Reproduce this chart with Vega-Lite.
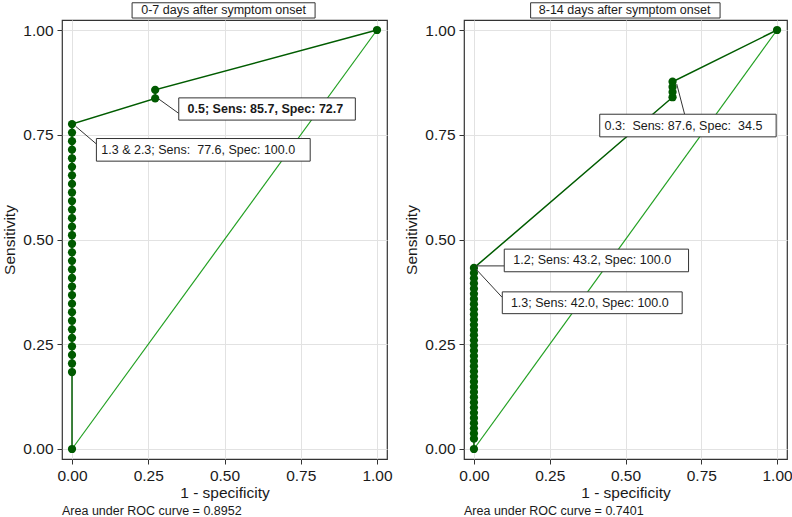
{
  "$schema": "https://vega.github.io/schema/vega-lite/v6.json",
  "padding": {"left": 2, "top": 1, "right": 0, "bottom": 0},
  "spacing": 11,
  "config": {
    "font": "Liberation Sans",
    "view": {"stroke": "#333333", "strokeWidth": 1.2},
    "axis": {
      "grid": true, "gridColor": "#e2e2e2", "gridWidth": 1, "domain": false,
      "tickColor": "#333333", "tickSize": 5, "labelPadding": 4,
      "labelFontSize": 15.5, "labelColor": "#1a1a1a", "labelFont": "Liberation Sans",
      "titleFontSize": 15.5, "titleFontWeight": "normal", "titleColor": "#1a1a1a", "titleFont": "Liberation Sans"
    },
    "axisY": {"titlePadding": 5},
    "axisX": {"titlePadding": 2},
    "title": {"orient": "bottom", "anchor": "start", "frame": "group", "fontSize": 12.5, "fontWeight": "normal", "color": "#1a1a1a", "offset": 4, "font": "Liberation Sans"}
  },
  "hconcat": [
    {
      "width": 325, "height": 439,
      "title": {"text": "Area under ROC curve = 0.8952"},
      "encoding": {
        "x": {"field": "fpr", "type": "quantitative", "title": "1 - specificity",
              "scale": {"domain": [-0.0328, 1.0328], "nice": false, "zero": false},
              "axis": {"values": [0, 0.25, 0.5, 0.75, 1], "format": ".2f"}},
        "y": {"field": "sens", "type": "quantitative", "title": "Sensitivity",
              "scale": {"domain": [-0.02387, 1.02387], "nice": false, "zero": false},
              "axis": {"values": [0, 0.25, 0.5, 0.75, 1], "format": ".2f"}}
      },
      "layer": [
        {
          "data": {"values": [{"fpr": 0, "sens": 0}, {"fpr": 1, "sens": 1}]},
          "mark": {"type": "line", "color": "#22a022", "strokeWidth": 1.2}
        },
        {
          "data": {"values": [
            {"fpr": 0, "sens": 0}, {"fpr": 0, "sens": 0.1837}, {"fpr": 0, "sens": 0.2041}, {"fpr": 0, "sens": 0.2245},
            {"fpr": 0, "sens": 0.2449}, {"fpr": 0, "sens": 0.2653}, {"fpr": 0, "sens": 0.2857}, {"fpr": 0, "sens": 0.3061},
            {"fpr": 0, "sens": 0.3265}, {"fpr": 0, "sens": 0.3469}, {"fpr": 0, "sens": 0.3673}, {"fpr": 0, "sens": 0.3878},
            {"fpr": 0, "sens": 0.4082}, {"fpr": 0, "sens": 0.4286}, {"fpr": 0, "sens": 0.4490}, {"fpr": 0, "sens": 0.4694},
            {"fpr": 0, "sens": 0.4898}, {"fpr": 0, "sens": 0.5102}, {"fpr": 0, "sens": 0.5306}, {"fpr": 0, "sens": 0.5510},
            {"fpr": 0, "sens": 0.5714}, {"fpr": 0, "sens": 0.5918}, {"fpr": 0, "sens": 0.6122}, {"fpr": 0, "sens": 0.6327},
            {"fpr": 0, "sens": 0.6531}, {"fpr": 0, "sens": 0.6735}, {"fpr": 0, "sens": 0.6939}, {"fpr": 0, "sens": 0.7143},
            {"fpr": 0, "sens": 0.7347}, {"fpr": 0, "sens": 0.7551}, {"fpr": 0, "sens": 0.7755},
            {"fpr": 0.2727, "sens": 0.8367}, {"fpr": 0.2727, "sens": 0.8571}, {"fpr": 1, "sens": 1}
          ]},
          "layer": [
            {"mark": {"type": "line", "color": "#005c00", "strokeWidth": 1.5}, "encoding": {"order": {"field": "sens", "type": "quantitative"}}},
            {"mark": {"type": "circle", "color": "#005a00", "size": 68, "opacity": 1}}
          ]
        },
        {
          "data": {"values": [
            {"fpr": 0.283, "sens": 0.836, "fpr2": 0.350, "sens2": 0.801},
            {"fpr": 0.012, "sens": 0.770, "fpr2": 0.080, "sens2": 0.728}
          ]},
          "mark": {"type": "rule", "color": "#333333", "strokeWidth": 1},
          "encoding": {"x2": {"field": "fpr2"}, "y2": {"field": "sens2"}}
        },
        {
          "data": {"values": [
            {"fpr": 0.350, "fpr2": 0.929, "sens": 0.838, "sens2": 0.785},
            {"fpr": 0.080, "fpr2": 0.781, "sens": 0.741, "sens2": 0.687},
            {"fpr": 0.197, "fpr2": 0.797, "sens": 1.065, "sens2": 1.0286}
          ]},
          "mark": {"type": "rect", "fill": "white", "stroke": "#333333", "strokeWidth": 1},
          "encoding": {"x2": {"field": "fpr2"}, "y2": {"field": "sens2"}}
        },
        {
          "data": {"values": [{"fpr": 0.379, "sens": 0.811, "label": "0.5; Sens: 85.7, Spec: 72.7"}]},
          "mark": {"type": "text", "align": "left", "baseline": "middle", "fontSize": 12.5, "fontWeight": "bold", "color": "#1a1a1a"},
          "encoding": {"text": {"field": "label"}}
        },
        {
          "data": {"values": [
            {"fpr": 0.096, "sens": 0.714, "label": "1.3 & 2.3; Sens:\u00a0 77.6, Spec: 100.0"}
          ]},
          "mark": {"type": "text", "align": "left", "baseline": "middle", "fontSize": 12.5, "color": "#1a1a1a"},
          "encoding": {"text": {"field": "label"}}
        },
        {
          "data": {"values": [{"fpr": 0.497, "sens": 1.047, "label": "0-7 days after symptom onset"}]},
          "mark": {"type": "text", "align": "center", "baseline": "middle", "fontSize": 12.5, "color": "#1a1a1a"},
          "encoding": {"text": {"field": "label"}}
        }
      ]
    },
    {
      "width": 323, "height": 439,
      "title": {"text": "Area under ROC curve = 0.7401"},
      "encoding": {
        "x": {"field": "fpr", "type": "quantitative", "title": "1 - specificity",
              "scale": {"domain": [-0.0328, 1.0328], "nice": false, "zero": false},
              "axis": {"values": [0, 0.25, 0.5, 0.75, 1], "format": ".2f"}},
        "y": {"field": "sens", "type": "quantitative", "title": "Sensitivity",
              "scale": {"domain": [-0.02387, 1.02387], "nice": false, "zero": false},
              "axis": {"values": [0, 0.25, 0.5, 0.75, 1], "format": ".2f"}}
      },
      "layer": [
        {
          "data": {"values": [{"fpr": 0, "sens": 0}, {"fpr": 1, "sens": 1}]},
          "mark": {"type": "line", "color": "#22a022", "strokeWidth": 1.2}
        },
        {
          "data": {"values": [
            {"fpr": 0, "sens": 0}, {"fpr": 0, "sens": 0.0247}, {"fpr": 0, "sens": 0.0370}, {"fpr": 0, "sens": 0.0494},
            {"fpr": 0, "sens": 0.0617}, {"fpr": 0, "sens": 0.0741}, {"fpr": 0, "sens": 0.0864}, {"fpr": 0, "sens": 0.0988},
            {"fpr": 0, "sens": 0.1111}, {"fpr": 0, "sens": 0.1235}, {"fpr": 0, "sens": 0.1358}, {"fpr": 0, "sens": 0.1481},
            {"fpr": 0, "sens": 0.1605}, {"fpr": 0, "sens": 0.1728}, {"fpr": 0, "sens": 0.1852}, {"fpr": 0, "sens": 0.1975},
            {"fpr": 0, "sens": 0.2099}, {"fpr": 0, "sens": 0.2222}, {"fpr": 0, "sens": 0.2346}, {"fpr": 0, "sens": 0.2469},
            {"fpr": 0, "sens": 0.2593}, {"fpr": 0, "sens": 0.2716}, {"fpr": 0, "sens": 0.2840}, {"fpr": 0, "sens": 0.2963},
            {"fpr": 0, "sens": 0.3086}, {"fpr": 0, "sens": 0.3210}, {"fpr": 0, "sens": 0.3333}, {"fpr": 0, "sens": 0.3457},
            {"fpr": 0, "sens": 0.3580}, {"fpr": 0, "sens": 0.3704}, {"fpr": 0, "sens": 0.3827}, {"fpr": 0, "sens": 0.3951},
            {"fpr": 0, "sens": 0.4074}, {"fpr": 0, "sens": 0.4198}, {"fpr": 0, "sens": 0.4321},
            {"fpr": 0.6552, "sens": 0.8395}, {"fpr": 0.6552, "sens": 0.8519}, {"fpr": 0.6552, "sens": 0.8642},
            {"fpr": 0.6552, "sens": 0.8765}, {"fpr": 1, "sens": 1}
          ]},
          "layer": [
            {"mark": {"type": "line", "color": "#005c00", "strokeWidth": 1.5}, "encoding": {"order": {"field": "sens", "type": "quantitative"}}},
            {"mark": {"type": "circle", "color": "#005a00", "size": 68, "opacity": 1}}
          ]
        },
        {
          "data": {"values": [
            {"fpr": 0.669, "sens": 0.871, "fpr2": 0.695, "sens2": 0.799},
            {"fpr": 0.007, "sens": 0.437, "fpr2": 0.100, "sens2": 0.437},
            {"fpr": 0.006, "sens": 0.430, "fpr2": 0.093, "sens2": 0.362}
          ]},
          "mark": {"type": "rule", "color": "#333333", "strokeWidth": 1},
          "encoding": {"x2": {"field": "fpr2"}, "y2": {"field": "sens2"}}
        },
        {
          "data": {"values": [
            {"fpr": 0.415, "fpr2": 0.997, "sens": 0.799, "sens2": 0.745},
            {"fpr": 0.100, "fpr2": 0.708, "sens": 0.477, "sens2": 0.423},
            {"fpr": 0.0935, "fpr2": 0.687, "sens": 0.375, "sens2": 0.323},
            {"fpr": 0.187, "fpr2": 0.812, "sens": 1.065, "sens2": 1.0286}
          ]},
          "mark": {"type": "rect", "fill": "white", "stroke": "#333333", "strokeWidth": 1},
          "encoding": {"x2": {"field": "fpr2"}, "y2": {"field": "sens2"}}
        },
        {
          "data": {"values": [
            {"fpr": 0.431, "sens": 0.771, "label": "0.3:\u00a0 Sens: 87.6, Spec:\u00a0 34.5"},
            {"fpr": 0.130, "sens": 0.450, "label": "1.2; Sens: 43.2, Spec: 100.0"},
            {"fpr": 0.122, "sens": 0.349, "label": "1.3; Sens: 42.0, Spec: 100.0"}
          ]},
          "mark": {"type": "text", "align": "left", "baseline": "middle", "fontSize": 12.5, "color": "#1a1a1a"},
          "encoding": {"text": {"field": "label"}}
        },
        {
          "data": {"values": [{"fpr": 0.497, "sens": 1.047, "label": "8-14 days after symptom onset"}]},
          "mark": {"type": "text", "align": "center", "baseline": "middle", "fontSize": 12.5, "color": "#1a1a1a"},
          "encoding": {"text": {"field": "label"}}
        }
      ]
    }
  ]
}
